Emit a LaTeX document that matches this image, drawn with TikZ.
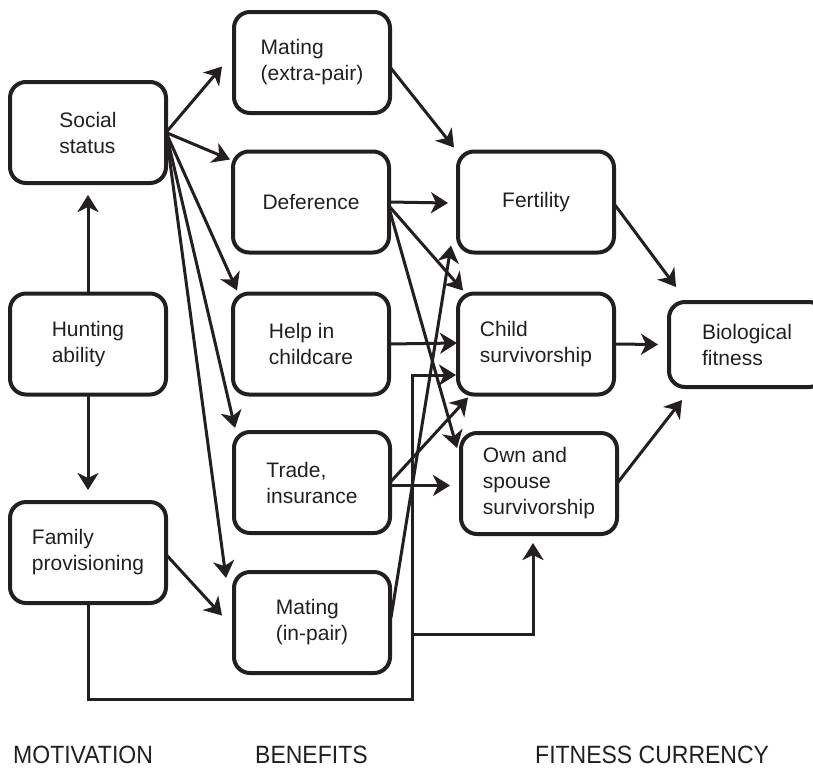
\documentclass[tikz,border=0pt]{standalone}
\usepackage{fontspec}
\setmainfont{Liberation Sans}
\newfontfamily\headfont[FakeStretch=0.92]{Liberation Sans}
\usetikzlibrary{arrows.meta,calc}
\definecolor{ink}{RGB}{35,31,32}
\tikzset{
  box/.style={draw=ink, text=ink, line width=4pt, rounded corners=16pt,
    minimum width=156pt, minimum height=101pt, inner sep=0pt, outer sep=0pt,
    align=left, font=\fontsize{21}{26}\selectfont},
  arr/.style={draw=ink, line width=3pt,
    -{Stealth[length=17pt,width=21pt,inset=5pt]}},
  head/.style={text=ink, anchor=base west, inner sep=0pt,
    font=\headfont\fontsize{25}{30}\selectfont}
}
\begin{document}
\begin{tikzpicture}[x=1pt,y=-1pt]
\useasboundingbox (0,0) rectangle (813,769);

% motivation column
\node[box] (social)  at (88,132.5) {Social\\status};
\node[box] (hunting) at (88,344)   {Hunting\\ability};
\node[box] (family)  at (88,552.5) {Family\\provisioning};

% benefits column
\node[box] (matingx)   at (312,62.5)  {Mating\\(extra-pair)};
\node[box] (deference) at (311,202)   {Deference};
\node[box] (help)      at (311,344)   {Help in\\childcare};
\node[box] (trade)     at (312,482.5) {Trade,\\insurance};
\node[box] (matingi)   at (312,622.5) {Mating\\(in-pair)};

% fitness currency column
\node[box] (fertility) at (536,202)   {Fertility};
\node[box] (child)     at (536,344)   {Child\\survivorship};
\node[box] (own)       at (539,483.5) {Own and\\spouse\\survivorship};
\node[box, minimum height=85pt] (bio) at (747,344.5) {Biological\\fitness};

% column headings
\node[head] (hmot) at (13,763)  {MOTIVATION};
\node[head] (hben) at (255,763) {BENEFITS};
\node[head] (hfit) at (535,763) {FITNESS CURRENCY};

% hunting ability
\draw[arr, shorten >=12pt] (hunting.north) -- (social.south);
\draw[arr, shorten >=12pt] (hunting.south) -- (family.north);

% social status fan
\draw[arr] (social.east) -- ($(matingx.west)+(-12,4)$);
\draw[arr] (social.east) -- ($(deference.north west)+(-3,8)$);
\draw[arr] (social.east) -- ($(help.north west)+(4,-3)$);
\draw[arr] (social.east) -- ($(trade.north west)+(1,-4)$);
\draw[arr] (social.east) -- ($(matingi.north west)+(-8,6)$);

% family provisioning
\draw[arr] ($(family.east)+(0,2)$) -- ($(matingi.west)+(-12,-7)$);
\coordinate (bend)  at (412,699);
\coordinate (split) at (412,634);
\draw[arr] (family.south) |- (bend) |- ($(child.west)+(-2,31)$);
\draw[arr] (split) -| ($(own.south)+(-6,9)$);

% benefits to fitness currency
\draw[arr] ($(matingx.east)+(0,4.5)$) -- ($(fertility.north west)+(-4,-4)$);
\draw[arr] (deference.east) -- ($(fertility.west)+(-10,1)$);
\draw[arr] ($(deference.east)+(0,4)$) -- ($(child.north west)+(5,-3)$);
\draw[arr] ($(deference.east)+(0,6)$) -- ($(own.north west)+(-4,15)$);
\draw[arr] (help.east) -- ($(child.west)+(-1,-1)$);
\draw[arr] (trade.east) -- ($(child.south west)+(10,3)$);
\draw[arr] ($(trade.east)+(0,3)$) -- ($(own.west)+(-11,2)$);
\draw[arr] ($(matingi.east)+(1,-5)$) -- ($(fertility.south west)+(-7,-7)$);

% fitness currency to biological fitness
\draw[arr] ($(fertility.east)+(1,3)$) -- ($(bio.north west)+(7,-15)$);
\draw[arr] (child.east) -- ($(bio.west)+(-11,0)$);
\draw[arr] (own.east) -- ($(bio.south west)+(13,13)$);
\end{tikzpicture}
\end{document}
